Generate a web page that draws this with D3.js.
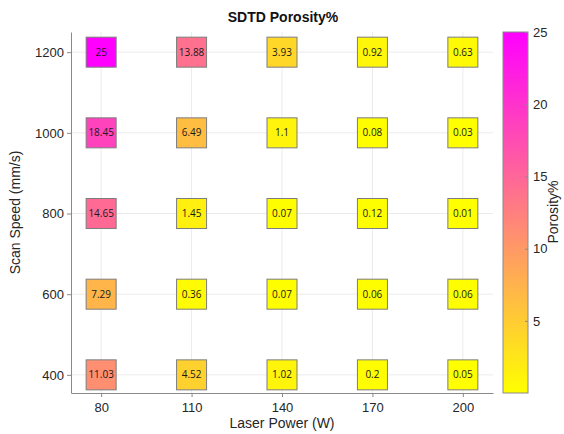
<!DOCTYPE html>
<html>
<head>
<meta charset="utf-8">
<script src="https://cdn.jsdelivr.net/npm/d3@7"></script>
<style>
  html, body { margin: 0; padding: 0; background: #fff; }
  svg { display: block; font-family: "Liberation Sans", Arial, sans-serif; }
</style>
</head>
<body>
<svg id="chart" width="564" height="434"></svg>
<script>
// Laser power (W) columns and scan speed (mm/s) rows
const powers = [80, 110, 140, 170, 200];
const speeds = [400, 600, 800, 1000, 1200];
// Porosity % per scan speed row, ordered by laser power
const por400  = [11.03, 4.52, 1.02, 0.2, 0.05];
const por600  = [7.29, 0.36, 0.07, 0.06, 0.06];
const por800  = [14.65, 1.45, 0.07, 0.12, 0.01];
const por1000 = [18.45, 6.49, 1.1, 0.08, 0.03];
const por1200 = [25, 13.88, 3.93, 0.92, 0.63];
const colorTicks = [5, 10, 15, 20, 25];

const rows = [por400, por600, por800, por1000, por1200];
const cells = [];
rows.forEach((r, i) => r.forEach((v, j) => cells.push({ p: powers[j], s: speeds[i], v })));

const svg = d3.select("#chart");
const L = 71, R = 493, T = 32, B = 393;

const x = d3.scaleLinear().domain([70, 210]).range([L, R]);
const y = d3.scaleLinear().domain([355, 1250]).range([B, T]);

// spring colormap: yellow at low porosity to magenta at high
const vmin = d3.min(cells, d => d.v), vmax = d3.max(cells, d => d.v);
const color = d3.scaleLinear().domain([vmin, vmax])
  .range(["#ffff00", "#ff00ff"]).interpolate(d3.interpolateRgb);

// grid lines
const grid = svg.append("g");
grid.selectAll(".gx").data(powers).join("line")
  .attr("x1", d => x(d)).attr("x2", d => x(d)).attr("y1", T).attr("y2", B)
  .attr("stroke", "#ebebeb").attr("stroke-width", 1);
grid.selectAll(".gy").data(speeds).join("line")
  .attr("y1", d => y(d)).attr("y2", d => y(d)).attr("x1", L).attr("x2", R)
  .attr("stroke", "#ebebeb").attr("stroke-width", 1);

// axes on left and bottom only
const fmt = d3.format("d");
const xAxis = d3.axisBottom(x).tickValues(powers).tickFormat(fmt).tickSizeInner(4).tickSizeOuter(0).tickPadding(6);
const yAxis = d3.axisLeft(y).tickValues(speeds).tickFormat(fmt).tickSizeInner(4).tickSizeOuter(0).tickPadding(3);
const gx = svg.append("g").attr("transform", `translate(0,${B})`).call(xAxis);
const gy = svg.append("g").attr("transform", `translate(${L},0)`).call(yAxis);
[gx, gy].forEach(g => {
  g.select(".domain").attr("stroke", "#8a8a8a");
  g.selectAll(".tick line").attr("stroke", "#8a8a8a");
  g.selectAll(".tick text").attr("fill", "#262626").attr("font-size", 13)
    .attr("font-family", "Liberation Sans, Arial, sans-serif");
});

// cells
const cs = 30;
const cg = svg.append("g");
cg.selectAll("rect").data(cells).join("rect")
  .attr("x", d => x(d.p) - cs / 2).attr("y", d => y(d.s) - cs / 2)
  .attr("width", cs).attr("height", cs)
  .attr("fill", d => color(d.v))
  .attr("stroke", "#7d7d7d").attr("stroke-width", 1);
cg.selectAll("text").data(cells).join("text")
  .attr("x", d => x(d.p)).attr("y", d => y(d.s) + 3.5)
  .attr("text-anchor", "middle").attr("font-size", 10)
  .attr("font-family", "Open Sans, sans-serif")
  .attr("fill", "#1a1a1a")
  .text(d => d.v);

// titles
svg.append("text").attr("x", 283).attr("y", 22).attr("text-anchor", "middle")
  .attr("font-size", 14).attr("font-weight", "bold").attr("fill", "#111")
  .text("SDTD Porosity%");
svg.append("text").attr("x", (L + R) / 2).attr("y", 428).attr("text-anchor", "middle")
  .attr("font-size", 14).attr("fill", "#262626").text("Laser Power (W)");
svg.append("text").attr("transform", `translate(20,${(T + B) / 2}) rotate(-90)`)
  .attr("text-anchor", "middle").attr("font-size", 14).attr("fill", "#262626")
  .text("Scan Speed (mm/s)");

// colorbar
const cbX = 503, cbW = 25;
const cy = d3.scaleLinear().domain([vmin, vmax]).range([B, T]);
const defs = svg.append("defs");
const grad = defs.append("linearGradient").attr("id", "cbgrad")
  .attr("x1", 0).attr("x2", 0).attr("y1", 1).attr("y2", 0);
grad.append("stop").attr("offset", 0).attr("stop-color", color(vmin));
grad.append("stop").attr("offset", 1).attr("stop-color", color(vmax));
svg.append("rect").attr("x", cbX).attr("y", T).attr("width", cbW).attr("height", B - T)
  .attr("fill", "url(#cbgrad)").attr("stroke", "#8a8a8a").attr("stroke-width", 1);
const cAxis = d3.axisRight(cy).tickValues(colorTicks).tickSizeInner(-3).tickSizeOuter(0).tickPadding(5);
const gc = svg.append("g").attr("transform", `translate(${cbX + cbW},0)`).call(cAxis);
gc.select(".domain").remove();
gc.selectAll(".tick line").attr("stroke", "#8a8a8a");
gc.selectAll(".tick text").attr("fill", "#262626").attr("font-size", 13)
  .attr("font-family", "Liberation Sans, Arial, sans-serif");
svg.append("text").attr("transform", `translate(558,212) rotate(-90)`)
  .attr("text-anchor", "middle").attr("font-size", 14).attr("fill", "#262626")
  .text("Porosity%");
</script>
</body>
</html>
